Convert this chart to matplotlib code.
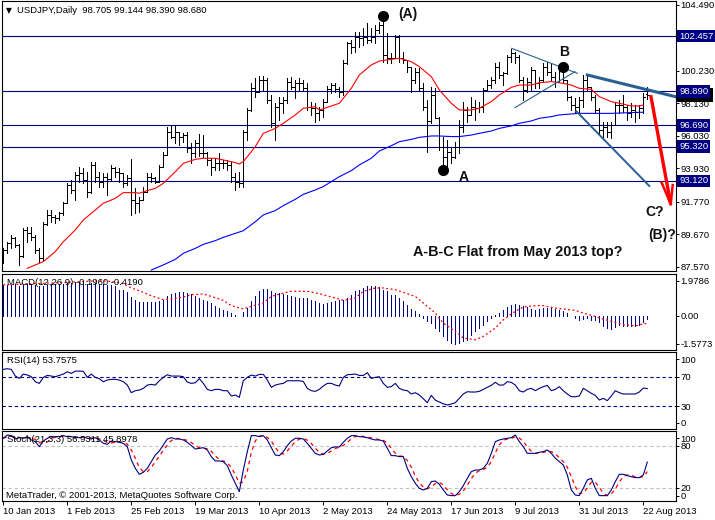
import numpy as np
import pandas as pd
import matplotlib
matplotlib.use("Agg")
import matplotlib.pyplot as plt
from matplotlib.patches import Rectangle

plt.rcParams['font.family'] = ['Liberation Sans', 'DejaVu Sans']

# USDJPY daily bars, 10 Jan 2013 .. 23 Aug 2013
highs = [88.75, 89.18, 89.61, 89.46, 89.00, 90.04, 90.15, 90.15, 89.61, 88.75,
         90.48, 91.23, 91.23, 90.91, 91.12, 91.77, 92.95, 93.17, 93.70, 94.03,
         93.92, 93.70, 94.35, 94.35, 93.70, 93.60, 93.60, 94.14, 94.03, 93.92,
         93.60, 93.49, 94.50, 92.63, 92.09, 92.74, 93.60, 93.64, 93.38, 94.14,
         95.00, 96.61, 96.66, 96.72, 96.29, 96.22, 96.29, 95.54, 95.75, 96.14,
         96.07, 95.00, 94.57, 94.57, 94.89, 94.46, 94.46, 94.35, 93.60, 93.70,
         96.40, 97.80, 99.41, 99.73, 99.89, 99.89, 99.73, 98.66, 98.12, 98.55,
         98.55, 99.73, 99.84, 99.63, 99.73, 99.63, 99.41, 98.23, 98.12, 97.90,
         98.38, 99.24, 99.45, 99.41, 99.20, 100.92, 102.10, 102.21, 102.75, 102.75,
         102.96, 103.29, 102.96, 103.18, 103.40, 103.74, 102.64, 101.35, 102.53, 102.53,
         101.46, 100.92, 100.49, 100.38, 100.38, 99.41, 98.33, 99.20, 99.09, 97.25,
         95.97, 95.75, 95.21, 95.64, 97.04, 98.23, 97.90, 98.55, 98.33, 98.23,
         99.09, 99.63, 99.84, 100.70, 100.81, 100.17, 101.24, 101.60, 101.46, 101.24,
         99.84, 99.73, 100.49, 100.27, 99.84, 100.70, 100.81, 100.70, 100.17, 100.60,
         100.49, 99.63, 98.60, 98.44, 98.55, 99.95, 99.95, 99.20, 98.66, 97.80,
         96.94, 96.94, 96.94, 98.23, 98.33, 98.66, 98.01, 98.12, 98.01, 98.01,
         98.76, 99.144]
lows = [87.78, 88.43, 88.75, 88.86, 87.68, 88.21, 89.18, 89.29, 88.43, 87.89,
        88.00, 90.26, 90.48, 90.37, 90.58, 90.91, 91.66, 92.31, 91.87, 93.06,
        92.95, 92.09, 92.35, 93.06, 92.74, 92.74, 92.20, 93.17, 93.38, 93.06,
        92.74, 92.84, 90.91, 91.01, 91.12, 91.87, 92.41, 93.06, 92.95, 93.06,
        94.03, 94.78, 95.86, 95.54, 95.43, 95.64, 95.00, 94.24, 94.67, 94.72,
        94.67, 94.14, 93.49, 93.81, 93.81, 93.92, 93.81, 93.06, 92.52, 92.69,
        92.74, 95.75, 97.60, 98.55, 98.85, 98.98, 98.12, 96.61, 95.75, 97.04,
        97.47, 98.12, 99.02, 98.44, 98.98, 98.98, 97.69, 97.37, 96.94, 97.04,
        97.26, 98.20, 98.76, 98.87, 98.55, 98.66, 100.65, 101.35, 101.46, 101.78,
        101.89, 102.00, 102.10, 102.00, 102.64, 100.81, 100.70, 100.70, 101.03, 100.81,
        100.70, 100.17, 98.87, 99.41, 98.98, 97.69, 95.00, 96.83, 97.15, 95.11,
        93.79, 94.03, 94.24, 94.57, 94.89, 96.29, 96.94, 97.37, 97.04, 97.58,
        97.58, 98.98, 99.09, 99.41, 99.73, 99.30, 100.00, 100.81, 100.70, 99.52,
        98.33, 98.87, 98.98, 99.09, 99.09, 99.52, 99.95, 99.63, 99.20, 99.50,
        99.41, 98.33, 97.69, 97.47, 97.58, 97.90, 98.98, 98.33, 97.47, 96.18,
        95.97, 95.97, 95.86, 96.70, 97.47, 97.58, 97.04, 97.26, 96.94, 97.15,
        97.47, 98.39]
closes = [88.64, 89.08, 89.40, 88.97, 88.26, 89.94, 89.72, 89.50, 88.64, 88.11,
          90.32, 90.91, 90.80, 90.69, 91.01, 91.66, 92.84, 92.52, 93.49, 93.60,
          93.17, 92.41, 94.14, 93.38, 93.06, 93.38, 93.20, 93.92, 93.70, 93.60,
          92.95, 93.27, 91.87, 91.66, 91.87, 92.41, 93.38, 93.27, 93.06, 94.03,
          94.78, 96.29, 95.97, 96.29, 95.97, 96.07, 95.21, 94.89, 95.54, 94.89,
          94.89, 94.46, 94.03, 94.24, 94.24, 94.24, 94.14, 93.38, 93.06, 92.95,
          96.29, 97.69, 99.09, 98.87, 99.63, 99.63, 98.33, 96.83, 97.90, 98.12,
          98.33, 99.52, 99.20, 99.41, 99.41, 99.09, 97.90, 97.80, 97.47, 97.69,
          98.23, 99.02, 99.30, 99.02, 98.87, 100.70, 102.00, 101.78, 102.43, 102.32,
          102.43, 102.21, 102.43, 102.86, 103.20, 101.24, 101.03, 101.03, 102.43, 101.03,
          100.92, 100.49, 99.63, 100.17, 99.09, 97.90, 96.95, 98.66, 97.20, 95.32,
          94.67, 95.00, 94.67, 95.32, 96.61, 97.69, 97.37, 97.90, 97.80, 97.90,
          98.98, 99.30, 99.63, 100.49, 99.95, 100.06, 101.13, 101.35, 101.13, 99.63,
          98.98, 99.52, 100.27, 99.41, 99.63, 100.49, 100.17, 99.84, 99.52, 100.38,
          99.63, 98.55, 98.01, 97.90, 98.33, 99.63, 99.20, 98.55, 97.69, 96.40,
          96.61, 96.29, 96.72, 98.01, 98.01, 97.90, 97.47, 97.69, 97.58, 97.80,
          98.55, 98.68]
first_open = 88.30
last_open = 98.705

# moving averages (red = fast, blue = slow), read at bar positions
ma_red_bar = [6, 8, 10, 13, 15, 18, 20, 23, 25, 28, 30, 33, 34, 36, 38, 40, 43, 45, 48, 50,
              53, 55, 58, 59, 60, 63, 65, 68, 70, 73, 75, 78, 79, 82, 84,
              87, 89, 92, 94, 97, 99, 102, 104, 107, 109, 112, 114, 117, 119, 122,
              124, 127, 129, 132, 134, 137, 139, 142, 144, 147, 149, 152, 154, 157, 159, 160]
ma_red = [87.46, 87.68, 87.89, 88.54, 89.18, 89.94, 90.58, 91.23, 91.66, 91.98,
          92.35, 92.35, 92.31, 92.48, 92.63, 92.95, 93.70, 94.24, 94.50, 94.57,
          94.57, 94.46, 94.29, 94.20, 94.35, 95.32, 96.18, 96.50, 96.83, 97.37,
          97.80, 97.90, 97.69, 97.95, 98.12,
          99.09, 99.95, 100.60, 100.85, 100.96, 101.03, 100.81, 100.49, 99.84, 98.98,
          98.12, 97.69, 97.69, 97.80, 98.23, 98.66, 99.15, 99.30, 99.30, 99.45,
          99.52, 99.45, 99.30, 99.09, 99.02, 98.55, 98.23, 98.12, 97.95, 97.95, 98.01]
ma_blue_bar = [37, 40, 43, 45, 48, 50, 53, 55, 58, 60, 63, 65, 68, 70, 73, 75, 78, 80, 82, 84,
               87, 89, 92, 94, 97, 99, 102, 104, 107, 109, 112, 114, 117, 119, 122, 124,
               127, 129, 132, 134, 137, 139, 142, 144, 147, 149, 152, 154, 157, 159, 160]
ma_blue = [87.35, 87.68, 88.04, 88.43, 88.75, 89.01, 89.25, 89.46, 89.72, 89.89,
           90.47, 90.91, 91.19, 91.51, 91.92, 92.24, 92.52, 92.74, 93.06, 93.38,
           93.77, 94.14, 94.57, 95.04, 95.38, 95.64, 95.79, 95.92, 96.01, 96.01,
           95.97, 95.97, 96.07, 96.18, 96.33, 96.50, 96.66, 96.83, 96.98, 97.15,
           97.26, 97.37, 97.43, 97.47, 97.47, 97.47, 97.47, 97.49, 97.52, 97.54, 97.54]

levels = [102.457, 98.890, 96.690, 95.320, 93.120]
price_ticks = [104.490, 100.230, 98.130, 96.030, 93.930, 91.770, 89.670, 87.570]
last_price = 98.680

macd = [1.72, 1.74, 1.76, 1.74, 1.70, 1.74, 1.78, 1.80, 1.76, 1.68,
        1.70, 1.76, 1.80, 1.80, 1.80, 1.82, 1.86, 1.86, 1.88, 1.90,
        1.88, 1.82, 1.84, 1.84, 1.80, 1.78, 1.72, 1.72, 1.70, 1.47,
        1.43, 1.32, 1.06, 0.87, 0.79, 0.75, 0.75, 0.75, 0.77, 0.81,
        0.91, 1.09, 1.23, 1.28, 1.32, 1.32, 1.28, 1.25, 1.13, 1.00,
        0.87, 0.81, 0.72, 0.57, 0.43, 0.34, 0.25, 0.15, 0.06, -0.02,
        0.19, 0.43, 0.81, 1.09, 1.38, 1.53, 1.53, 1.38, 1.28, 1.28,
        1.25, 1.19, 1.09, 1.06, 1.00, 1.00, 1.00, 0.91, 0.81, 0.72,
        0.68, 0.72, 0.75, 0.81, 0.87, 0.91, 1.00, 1.19, 1.38, 1.47,
        1.57, 1.66, 1.66, 1.66, 1.62, 1.47, 1.38, 1.19, 1.19, 1.00,
        0.81, 0.62, 0.38, 0.25, 0.09, -0.13, -0.32, -0.42, -0.70, -0.89,
        -1.17, -1.40, -1.52, -1.58, -1.55, -1.45, -1.36, -1.08, -0.89, -0.70,
        -0.51, -0.32, -0.13, 0.02, 0.15, 0.30, 0.47, 0.62, 0.68, 0.62,
        0.53, 0.49, 0.38, 0.34, 0.38, 0.43, 0.43, 0.43, 0.38, 0.34,
        0.25, 0.15, -0.04, -0.13, -0.23, -0.19, -0.13, -0.23, -0.26, -0.38,
        -0.60, -0.70, -0.75, -0.64, -0.51, -0.57, -0.57, -0.57, -0.57, -0.51,
        -0.38, -0.196]
signal_bar = [0, 8, 16, 24, 27, 30, 32, 35, 37, 40, 42, 45, 47, 50, 52, 55, 57, 60, 62, 65,
              67, 70, 72, 76, 79, 82, 85, 88, 90, 93, 95, 98, 100, 103, 105, 108, 110,
              113, 115, 118, 120, 123, 125, 128, 130, 133, 135, 138, 140, 143, 145, 148,
              150, 153, 155, 158, 161]
signal = [1.75, 1.81, 1.89, 1.98, 1.94, 1.81, 1.57, 1.32, 1.13, 0.91, 0.94, 1.06, 1.19,
          1.23, 1.09, 0.87, 0.57, 0.38, 0.53, 0.72, 1.09, 1.28, 1.38, 1.38, 1.25, 1.06,
          0.87, 1.00, 1.38, 1.57, 1.57, 1.47, 1.32, 1.09, 0.72, 0.15, -0.42, -0.89,
          -1.26, -1.36, -1.17, -0.70, -0.23, 0.25, 0.49, 0.57, 0.57, 0.43, 0.38, 0.30,
          0.15, -0.04, -0.19, -0.38, -0.51, -0.57, -0.42]

rsi = [80.0, 80.9, 80.0, 70.9, 67.7, 73.6, 72.3, 70.0, 63.2, 60.9,
       69.1, 71.8, 70.9, 70.0, 71.8, 73.6, 76.8, 74.5, 77.7, 77.7,
       77.3, 69.1, 73.6, 69.1, 67.3, 63.2, 65.5, 66.4, 66.4, 65.5,
       63.2, 58.6, 48.2, 50.9, 51.8, 54.1, 58.6, 59.5, 58.6, 64.5,
       69.1, 72.7, 70.9, 70.9, 70.9, 70.0, 62.7, 60.9, 61.8, 67.3,
       60.9, 52.7, 50.9, 52.7, 52.7, 50.9, 50.9, 43.6, 45.0, 41.8,
       64.5, 69.1, 72.3, 70.9, 73.2, 73.2, 65.5, 55.5, 58.6, 60.0,
       60.9, 64.5, 64.5, 64.5, 64.5, 63.6, 54.1, 50.9, 50.0, 52.7,
       57.3, 60.9, 60.9, 58.6, 57.3, 69.1, 72.7, 73.2, 73.6, 71.8,
       71.8, 75.5, 67.7, 69.1, 70.0, 60.9, 55.5, 56.4, 60.9, 54.1,
       51.8, 50.9, 46.4, 48.2, 45.0, 40.0, 34.5, 44.5, 38.0, 35.5,
       33.0, 31.4, 32.7, 34.5, 40.5, 46.4, 49.5, 49.1, 49.1, 50.0,
       52.7, 55.5, 58.2, 62.3, 58.6, 58.6, 63.2, 62.3, 58.6, 50.9,
       49.1, 52.7, 54.1, 50.9, 54.1, 56.4, 58.2, 50.9, 52.7, 56.4,
       50.9, 46.4, 42.7, 42.7, 43.6, 54.1, 50.9, 47.3, 44.5, 38.2,
       40.5, 37.3, 43.6, 50.9, 48.2, 46.4, 46.4, 46.4, 46.4, 49.1,
       54.5, 53.76]

stoch = [91.0, 95.7, 94.8, 90.0, 91.9, 91.0, 93.3, 88.6, 86.2, 79.0,
         87.1, 91.0, 93.3, 93.3, 93.3, 94.8, 93.3, 93.3, 91.9, 91.9,
         93.3, 91.0, 90.0, 91.9, 88.6, 83.8, 82.4, 87.1, 86.2, 85.2,
         83.8, 79.0, 60.0, 48.1, 39.5, 42.4, 48.1, 57.6, 67.1, 72.9,
         81.4, 90.0, 91.9, 90.0, 90.0, 88.6, 85.2, 80.5, 75.7, 76.7,
         77.6, 74.3, 64.8, 58.6, 58.6, 57.6, 51.9, 38.6, 26.7, 14.8,
         45.7, 71.9, 94.8, 94.8, 93.3, 94.8, 88.6, 77.6, 67.1, 66.2,
         71.9, 80.5, 87.1, 91.0, 91.0, 90.0, 83.8, 76.7, 69.5, 67.1,
         68.1, 72.9, 77.6, 78.6, 78.6, 85.2, 91.0, 94.8, 94.8, 93.3,
         92.9, 91.9, 90.0, 88.6, 88.6, 87.1, 76.7, 66.2, 66.2, 64.8,
         64.8, 48.1, 36.2, 26.7, 19.5, 17.2, 19.5, 29.1, 30.0, 25.3,
         17.2, 10.0, 9.1, 9.1, 14.8, 23.4, 33.8, 43.3, 45.7, 45.7,
         48.1, 55.2, 69.5, 86.2, 88.6, 90.0, 90.9, 91.9, 95.7, 86.2,
         79.0, 69.5, 69.5, 69.5, 71.0, 71.9, 74.3, 69.5, 62.4, 57.6,
         52.9, 38.6, 17.2, 10.0, 9.1, 19.5, 31.4, 33.8, 19.5, 9.1,
         9.1, 9.1, 17.2, 29.1, 39.5, 39.5, 37.6, 36.2, 34.8, 34.8,
         38.6, 56.93]

date_bars = [0, 16, 32, 48, 64, 80, 96, 112, 128, 144, 160]
date_labels = ['10 Jan 2013', '1 Feb 2013', '25 Feb 2013', '19 Mar 2013', '10 Apr 2013',
               '2 May 2013', '24 May 2013', '17 Jun 2013', '9 Jul 2013', '31 Jul 2013',
               '22 Aug 2013']

# analyst drawings: (bar, price) end points
triangle_lines = [((127.1, 101.67), (143.5, 100.06)), ((127.9, 97.84), (142.9, 100.16))]
channel_line = ((143.2, 97.62), (161.5, 92.78))
resistance_line = ((146.0, 99.95), (168.0, 98.55))
arrow_shaft = ((161.85, 98.65), (166.85, 91.61))
arrow_wings = [(164.6, 92.99), (167.35, 92.84)]

n = len(closes)
x = np.arange(n)
opens = [first_open] + closes[:-2] + [last_open]

NAVY = '#000080'
TREND = '#2a5f92'
FS = 6.8
PX = 0.72  # one pixel in points
W, H = 715, 520
fig = plt.figure(figsize=(W / 100, H / 100), dpi=100)


def panel(top, bottom, ylim):
    ax = fig.add_axes([2 / W, 1 - bottom / H, 673.5 / W, (bottom - top) / H])
    ax.set_xlim(-0.33, 168.05)
    ax.set_ylim(*ylim)
    for s in ax.spines.values():
        s.set_linewidth(0.8)
        s.set_color('black')
    ax.yaxis.tick_right()
    ax.tick_params(axis='y', length=2.5, width=0.7, pad=1.2, labelsize=FS)
    ax.tick_params(axis='x', bottom=False, labelbottom=False)
    return ax


ax = panel(1.2, 270.8, (87.30, 104.716))
ax_macd = panel(273.6, 350.0, (-1.941, 2.383))
ax_rsi = panel(352.4, 429.3, (-1.8, 103.2))
ax_sto = panel(431.2, 501.2, (1.14, 101.1))

# ---- main price panel ----
for lv in levels:
    ax.axhline(lv, color=NAVY, lw=0.8, zorder=1)
ax.vlines(x, lows, highs, color='black', lw=PX, zorder=2, antialiased=False)
ax.hlines(opens, x - 0.45, x, color='black', lw=PX, zorder=2, antialiased=False)
ax.hlines(closes, x, x + 0.45, color='black', lw=PX, zorder=2, antialiased=False)
ax.plot(ma_red_bar, ma_red, color='red', lw=0.8, zorder=3)
ax.plot(ma_blue_bar, ma_blue, color='blue', lw=0.8, zorder=3)

for (x0, y0), (x1, y1) in triangle_lines:
    ax.plot([x0, x1], [y0, y1], color=TREND, lw=0.8, zorder=4)
ax.plot(*zip(*channel_line), color=TREND, lw=1.4, zorder=4)
ax.plot(*zip(*resistance_line), color=TREND, lw=2.2, zorder=4)
ax.plot(*zip(*arrow_shaft), color='red', lw=2.4, zorder=5, solid_capstyle='butt')
for wx, wy in arrow_wings:
    ax.plot([wx, arrow_shaft[1][0]], [wy, arrow_shaft[1][1]], color='red', lw=1.8, zorder=5)

ax.plot([95], [highs[95]], 'o', color='black', ms=7, zorder=6)
ax.plot([140], [highs[140]], 'o', color='black', ms=7, zorder=6)
ax.plot([110], [lows[110]], 'o', color='black', ms=7, zorder=6)

lab = dict(fontsize=10, fontweight='bold', color='#111111', ha='center', va='center', zorder=7)
ax.text(101.2, 103.86, '(A)', **lab)
ax.text(140.3, 101.43, 'B', **lab)
ax.text(115.2, 93.38, 'A', **lab)
ax.text(162.8, 91.12, 'C?', **lab)
ax.text(164.6, 89.61, '(B)?', clip_on=False, **lab)
ax.text(128.7, 88.51, 'A-B-C Flat from May 2013 top?', fontsize=10.4, fontweight='bold',
        color='#111111', ha='center', va='center', zorder=7)

ax.set_yticks(price_ticks)
ax.set_yticklabels([f'{p:.3f}' for p in price_ticks])

# current price marker, mostly hidden under the 98.890 box
ax.add_patch(Rectangle((677 / W, 1 - 101.5 / H), 36 / W, 13 / H,
                       transform=fig.transFigure, fc='black', ec='none',
                       clip_on=False, zorder=8))
ytr = ax.get_yaxis_transform()
for lv in levels:
    ax.text(1.0052, lv, f'{lv:.3f}', transform=ytr, fontsize=FS, color='white',
            ha='left', va='center', clip_on=False, zorder=9,
            bbox=dict(boxstyle='square,pad=0.18', fc=NAVY, ec='none'))

# ---- MACD ----
ax_macd.vlines(x, 0, macd, color=NAVY, lw=PX, antialiased=False)
ax_macd.plot(signal_bar, signal, color='red', lw=0.9, ls=(0, (1.5, 2.0)))
ax_macd.set_yticks([1.9786, 0.0, -1.5773])
ax_macd.set_yticklabels(['1.9786', '0.00', '-1.5773'])

# ---- RSI ----
ax_rsi.axhline(70, color=NAVY, lw=0.8, ls=(0, (3, 2.5)))
ax_rsi.axhline(30, color=NAVY, lw=0.8, ls=(0, (3, 2.5)))
ax_rsi.plot(x, rsi, color=NAVY, lw=0.8)
ax_rsi.set_yticks([93.75, 70, 30, 7.2])
ax_rsi.set_yticklabels(['100', '70', '30', '0'])

# ---- Stochastic ----
stoch_signal = pd.Series(stoch).rolling(3, min_periods=1).mean()
ax_sto.axhline(80, color='#c0c0c0', lw=0.8, ls=(0, (3, 2.5)))
ax_sto.axhline(20, color='#c0c0c0', lw=0.8, ls=(0, (3, 2.5)))
ax_sto.plot(x, stoch_signal, color='red', lw=0.9, ls=(0, (3, 3)))
ax_sto.plot(x, stoch, color=NAVY, lw=0.8)
ax_sto.set_yticks([91, 80, 20, 9])
ax_sto.set_yticklabels(['100', '80', '20', '0'])
ax_sto.set_xticks(date_bars)
ax_sto.set_xticklabels(date_labels, ha='left')
ax_sto.tick_params(axis='x', bottom=True, labelbottom=True, length=3, width=0.7,
                   pad=1.5, labelsize=FS)


def ftext(px, py, s, size=FS, **kw):
    fig.text(px / W, 1 - py / H, s, va='center', ha='left', fontsize=size, **kw)


ftext(6.3, 11.0, '\u25bc', size=5.5, family='DejaVu Sans')
ftext(17.3, 10.7, 'USDJPY,Daily  98.705 99.144 98.390 98.680')
ftext(6.7, 282.7, 'MACD(12,26,9) -0.1960 -0.4190')
ftext(6.7, 360.7, 'RSI(14) 53.7575')
ftext(6.7, 440.0, 'Stoch(21,3,3) 56.9311 45.8978')
ftext(6.0, 495.0, 'MetaTrader, \u00a9 2001-2013, MetaQuotes Software Corp.')

fig.savefig('out.png', dpi=100)
